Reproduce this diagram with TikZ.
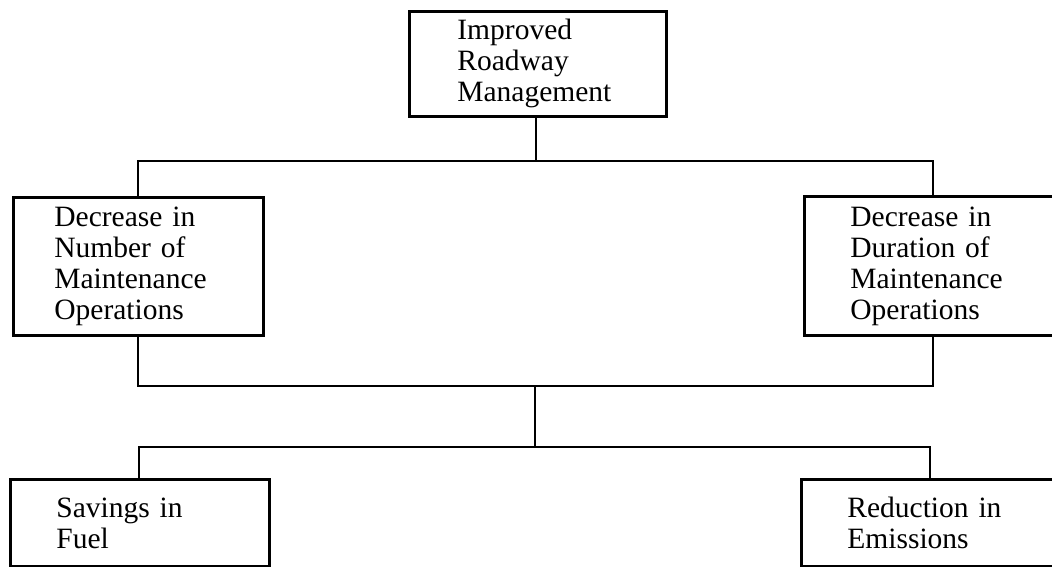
\documentclass[tikz,border=0pt]{standalone}
\usepackage{fontspec}
\setmainfont{Liberation Serif}
\begin{document}
\begin{tikzpicture}[x=1pt,y=-1pt,
  box/.style={draw, line width=2.8pt, rectangle, anchor=north west,
    align=left, inner ysep=0pt,
    font=\fontsize{29.5}{31}\selectfont},
  link/.style={line width=2.3pt, line cap=rect}]
\useasboundingbox (0,0) rectangle (1052,567);
\clip (0,0) rectangle (1052,567);

% boxes
\node[box, minimum width=257pt, minimum height=105pt, text width=161pt, inner xsep=48pt]
  (top) at (408,10) {Improved\\Roadway\\Management};
\node[box, minimum width=250pt, minimum height=138pt, text width=168pt, inner xsep=41pt]
  (num) at (12,196) {Decrease in\\Number of\\Maintenance\\Operations};
\node[box, minimum width=250pt, minimum height=139pt, text width=158pt, inner xsep=46pt]
  (dur) at (803,195) {Decrease in\\Duration of\\Maintenance\\Operations};
\node[box, minimum width=259pt, minimum height=87pt, text width=167pt, inner xsep=46pt]
  (fuel) at (9,478) {Savings in\\Fuel};
\node[box, minimum width=259pt, minimum height=87pt, text width=167pt, inner xsep=46pt]
  (emis) at (800,478) {Reduction in\\Emissions};

% junction points of the connector buses
\coordinate (a1) at (536,161);
\coordinate (al) at (138,161);
\coordinate (ar) at (933,161);
\coordinate (bl) at (138,386);
\coordinate (br) at (933,386);
\coordinate (b1) at (535,386);
\coordinate (c1) at (535,447);
\coordinate (cl) at (139,447);
\coordinate (cr) at (930,447);

% first level
\draw[link] (top.south -| a1) -- (a1);
\draw[link] (al) -- (ar);
\draw[link] (al) -- (al |- num.north);
\draw[link] (ar) -- (ar |- dur.north);

% second level
\draw[link] (bl |- num.south) -- (bl) -- (br) -- (br |- dur.south);
\draw[link] (b1) -- (c1);
\draw[link] (cl) -- (cr);
\draw[link] (cl) -- (cl |- fuel.north);
\draw[link] (cr) -- (cr |- emis.north);
\end{tikzpicture}
\end{document}
